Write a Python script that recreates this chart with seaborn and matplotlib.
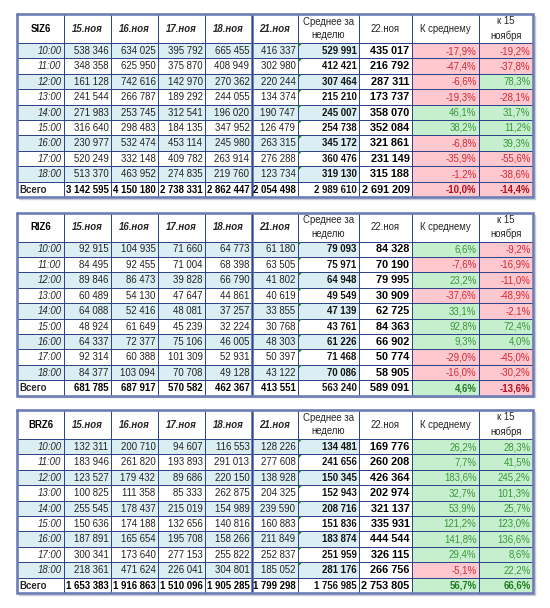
import numpy as np
import pandas as pd
import seaborn as sns
import matplotlib
matplotlib.use("Agg")
import matplotlib.pyplot as plt
from matplotlib.colors import ListedColormap
from matplotlib import font_manager

sns.set_theme(style="white")
_names = {f.name for f in font_manager.fontManager.ttflist}
_fam = ["Liberation Sans Narrow"] if "Liberation Sans Narrow" in _names else ["Liberation Sans"]
plt.rcParams["font.family"] = _fam + ["DejaVu Sans"]

# ---------------- data ----------------
hours = ["10:00", "11:00", "12:00", "13:00", "14:00", "15:00", "16:00", "17:00", "18:00"]
total_label = "Всего"
day_cols = ["15.ноя", "16.ноя", "17.ноя", "18.ноя", "21.ноя"]
avg_col = "Среднее за\nнеделю"
today_col = "22.ноя"
pct_cols = ["К среднему", "к 15\nноября"]

siz6_15 = [538346, 348358, 161128, 241544, 271983, 316640, 230977, 520249, 513370, 3142595]
siz6_16 = [634025, 625950, 742616, 266787, 253745, 298483, 532474, 332148, 463952, 4150180]
siz6_17 = [395792, 375870, 142970, 189292, 312541, 184135, 453114, 409782, 274835, 2738331]
siz6_18 = [665455, 408949, 270362, 244055, 196020, 347952, 245980, 263914, 219760, 2862447]
siz6_21 = [416337, 302980, 220244, 134374, 190747, 126479, 263315, 276288, 123734, 2054498]
siz6_avg = [529991, 412421, 307464, 215210, 245007, 254738, 345172, 360476, 319130, 2989610]
siz6_22 = [435017, 216792, 287311, 173737, 358070, 352084, 321861, 231149, 315188, 2691209]
siz6_kavg = [-17.9, -47.4, -6.6, -19.3, 46.1, 38.2, -6.8, -35.9, -1.2, -10.0]
siz6_k15 = [-19.2, -37.8, 78.3, -28.1, 31.7, 11.2, 39.3, -55.6, -38.6, -14.4]

riz6_15 = [92915, 84495, 89846, 60489, 64088, 48924, 64337, 92314, 84377, 681785]
riz6_16 = [104935, 92455, 86473, 54130, 52416, 61649, 72377, 60388, 103094, 687917]
riz6_17 = [71660, 71004, 39828, 47647, 48081, 45239, 75106, 101309, 70708, 570582]
riz6_18 = [64773, 68398, 66790, 44861, 37257, 32224, 46005, 52931, 49128, 462367]
riz6_21 = [61180, 63505, 41802, 40619, 33855, 30768, 48303, 50397, 43122, 413551]
riz6_avg = [79093, 75971, 64948, 49549, 47139, 43761, 61226, 71468, 70086, 563240]
riz6_22 = [84328, 70190, 79995, 30909, 62725, 84363, 66902, 50774, 58905, 589091]
riz6_kavg = [6.6, -7.6, 23.2, -37.6, 33.1, 92.8, 9.3, -29.0, -16.0, 4.6]
riz6_k15 = [-9.2, -16.9, -11.0, -48.9, -2.1, 72.4, 4.0, -45.0, -30.2, -13.6]

brz6_15 = [132311, 183946, 123527, 100825, 255545, 150636, 187891, 300341, 218361, 1653383]
brz6_16 = [200710, 261820, 179432, 111358, 178437, 174188, 165654, 173640, 471624, 1916863]
brz6_17 = [94607, 193893, 89686, 85333, 215019, 132656, 195708, 277153, 226041, 1510096]
brz6_18 = [116553, 291013, 220150, 262875, 154989, 140816, 158266, 255822, 304801, 1905285]
brz6_21 = [128226, 277608, 138928, 204325, 239590, 160883, 211849, 252837, 185052, 1799298]
brz6_avg = [134481, 241656, 150345, 152943, 208716, 151836, 183874, 251959, 281176, 1756985]
brz6_22 = [169776, 260208, 426364, 202974, 321137, 335931, 444544, 326115, 266756, 2753805]
brz6_kavg = [26.2, 7.7, 183.6, 32.7, 53.9, 121.2, 141.8, 29.4, -5.1, 56.7]
brz6_k15 = [28.3, 41.5, 245.2, 101.3, 25.7, 123.0, 136.6, 8.6, 22.2, 66.6]

tickers = ["SIZ6", "RIZ6", "BRZ6"]


def make_table(d15, d16, d17, d18, d21, avg, d22, kavg, k15):
    return pd.DataFrame({
        day_cols[0]: d15, day_cols[1]: d16, day_cols[2]: d17, day_cols[3]: d18,
        day_cols[4]: d21, avg_col: avg, today_col: d22,
        pct_cols[0]: kavg, pct_cols[1]: k15,
    }, index=hours + [total_label])


tables = [
    make_table(siz6_15, siz6_16, siz6_17, siz6_18, siz6_21, siz6_avg, siz6_22, siz6_kavg, siz6_k15),
    make_table(riz6_15, riz6_16, riz6_17, riz6_18, riz6_21, riz6_avg, riz6_22, riz6_kavg, riz6_k15),
    make_table(brz6_15, brz6_16, brz6_17, brz6_18, brz6_21, brz6_avg, brz6_22, brz6_kavg, brz6_k15),
]

# ---------------- layout / style ----------------
col_edges = [17, 64, 111, 158, 205, 252, 298, 359, 412, 479, 533]
table_tops = [14, 212.5, 410]
header_h = 29
row_h = 15.4

WHITE, BLUE, RED, GREEN = "#FFFFFF", "#DAEEF3", "#FFC7CE", "#C6EFCE"
fill_cmap = ListedColormap([WHITE, BLUE, RED, GREEN])
GRID = "#2B3F86"
FRAME = "#6C7DB5"
RED_TXT, GREEN_TXT = "#D02A35", "#3B963B"
RED_TXT_B, GREEN_TXT_B = "#B0101C", "#1E7A1E"
FS = 6.9


def fmt_int(v):
    return f"{int(v):,}".replace(",", " ")


def fmt_pct(v):
    return f"{v:.1f}%".replace(".", ",")


fig = plt.figure(figsize=(5.5, 6.08), dpi=100)
ax = fig.add_axes([0, 0, 1, 1])
ax.set_xlim(0, 550)
ax.set_ylim(608, 0)
ax.axis("off")

for ticker, df, top in zip(tickers, tables, table_tops):
    nrows = len(df)
    y_edges = [top, top + header_h] + [top + header_h + row_h * (i + 1) for i in range(nrows)]
    bottom = y_edges[-1]

    # colour codes for every cell (header + rows) x (label col + data cols)
    codes = np.zeros((nrows + 1, len(col_edges) - 1))
    for i in range(nrows):
        is_total = df.index[i] == total_label
        if (not is_total) and i % 2 == 0:
            codes[i + 1, :7] = 1
        for j, c in enumerate(pct_cols):
            codes[i + 1, 8 + j] = 2 if df[c].iloc[i] < 0 else 3
    ax.pcolormesh(col_edges, y_edges, codes, cmap=fill_cmap, vmin=-0.5, vmax=3.5,
                  shading="flat", zorder=1)

    # grid
    ax.hlines(y_edges, col_edges[0], col_edges[-1], color=GRID, lw=0.7, zorder=2)
    ax.vlines(col_edges, top, bottom, color=GRID, lw=0.7, zorder=2)
    ax.vlines([col_edges[5] - 0.9, col_edges[5] + 0.9], top, bottom, color="#5D72B0", lw=0.6, zorder=2)
    # frame
    ax.plot([col_edges[0], col_edges[-1], col_edges[-1], col_edges[0], col_edges[0]],
            [top, top, bottom, bottom, top], color=FRAME, lw=1.9, zorder=3,
            solid_joinstyle="miter")
    ax.plot([col_edges[-1] + 1.6, col_edges[-1] + 1.6], [top + 2, bottom + 1.6],
            color="#C9CCD6", lw=1.0, zorder=0)
    ax.plot([col_edges[0] + 2, col_edges[-1] + 1.6], [bottom + 1.6, bottom + 1.6],
            color="#C9CCD6", lw=1.0, zorder=0)

    # header
    hy = top + header_h / 2
    ax.text((col_edges[0] + col_edges[1]) / 2, hy, ticker, ha="center", va="center",
            fontsize=FS, fontweight="bold", color="black", zorder=4)
    for j, c in enumerate(df.columns):
        xc = (col_edges[j + 1] + col_edges[j + 2]) / 2
        if c in day_cols:
            ax.text(xc, hy, c, ha="center", va="center", fontsize=FS,
                    fontweight="bold", fontstyle="italic", zorder=4)
        else:
            ax.text(xc, hy, c, ha="center", va="center", fontsize=FS,
                    linespacing=1.45, zorder=4)

    # rows
    for i, idx in enumerate(df.index):
        yc = (y_edges[i + 1] + y_edges[i + 2]) / 2 + 0.3
        is_total = idx == total_label
        if is_total:
            ax.text(col_edges[0] + 2, yc, idx, ha="left", va="center", fontsize=FS,
                    fontweight="bold", zorder=4)
        else:
            ax.text(col_edges[1] - 2.5, yc, idx, ha="right", va="center", fontsize=FS,
                    fontstyle="italic", zorder=4)
        for j, c in enumerate(df.columns):
            v = df[c].iloc[i]
            xr = col_edges[j + 2] - 2.5
            if c in pct_cols:
                if is_total:
                    colr = RED_TXT_B if v < 0 else GREEN_TXT_B
                else:
                    colr = RED_TXT if v < 0 else GREEN_TXT
                ax.text(xr, yc, fmt_pct(v), ha="right", va="center", fontsize=FS,
                        color=colr, fontweight="bold" if is_total else "normal", zorder=4)
            elif c == today_col:
                ax.text(xr, yc, fmt_int(v), ha="right", va="center", fontsize=FS + 0.9,
                        fontweight="bold", color="black", zorder=4)
            elif c == avg_col:
                ax.text(xr, yc, fmt_int(v), ha="right", va="center", fontsize=FS,
                        fontweight="bold", color="#111111", zorder=4)
                if not is_total:
                    x0, y0 = col_edges[j + 1] + 0.6, y_edges[i + 1] + 0.6
                    ax.fill([x0, x0 + 3.2, x0], [y0, y0, y0 + 3.2], color="#1E8A1E",
                            lw=0, zorder=5)
            else:
                ax.text(xr, yc, fmt_int(v), ha="right", va="center", fontsize=FS,
                        fontweight="bold" if is_total else "normal",
                        color="black" if is_total else "#222222", zorder=4)

fig.savefig("out.png", dpi=100)
